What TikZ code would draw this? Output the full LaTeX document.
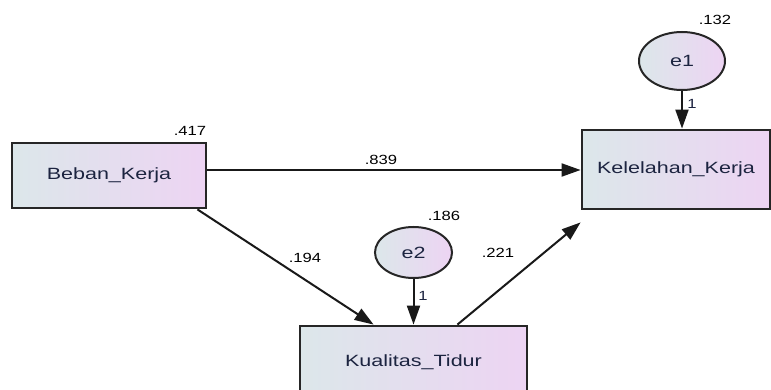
\documentclass[tikz,border=0pt]{standalone}
\usepackage{fontspec}
\newfontfamily\labfont[FakeStretch=1.32]{Liberation Sans}
\newfontfamily\numfont[FakeStretch=1.25]{Liberation Sans}
\usetikzlibrary{arrows.meta,shapes.geometric,calc}
\definecolor{gleft}{HTML}{DCE7EA}
\definecolor{gright}{HTML}{EDD4F3}
\definecolor{txt}{HTML}{1C2440}
\tikzset{
  var/.style={draw=black!85, line width=2.8pt, rectangle, inner sep=0pt,
    left color=gleft, right color=gright,
    font=\labfont\fontsize{16.3}{18}\selectfont, text=txt},
  err/.style={draw=black!85, line width=2pt, ellipse, inner sep=0pt,
    left color=gleft, right color=gright,
    font=\labfont\fontsize{16.3}{18}\selectfont, text=txt},
  num/.style={font=\numfont\fontsize{13.3}{15}\selectfont, text=black, inner sep=0pt},
  one/.style={font=\numfont\fontsize{13.3}{15}\selectfont, text=txt, inner sep=0pt},
  arr/.style={draw=black!90, line width=2pt, -{Triangle[length=19pt,width=13pt]}}
}
\begin{document}
\begin{tikzpicture}[x=1pt,y=-1pt]
\useasboundingbox (0,0) rectangle (771,390);
\fill[white] (0,0) rectangle (771,390);
\node[var, minimum width=194pt, minimum height=65pt] (B) at (109,175.5) {Beban\_Kerja};
\node[var, minimum width=188pt, minimum height=79pt] (KK) at (676,169.5) {Kelelahan\_Kerja};
\node[var, minimum width=227pt, minimum height=72pt] (KT) at (413.5,362) {Kualitas\_Tidur};
\node[err, minimum width=86pt, minimum height=58pt] (e1) at (682,61) {e1};
\node[err, minimum width=77pt, minimum height=51pt] (e2) at (413.5,252.5) {e2};
\draw[arr] (B.east |- 0,170) coordinate (b1) -- (KK.west |- b1);
\draw[arr] ([xshift=-10pt]B.south east) -- ([xshift=75pt]KT.north west);
\draw[arr] ([xshift=-71pt]KT.north east) -- ([yshift=-12pt]KK.south west);
\draw[arr] (e2.south) -- (e2.south |- KT.north);
\draw[arr] (e1.south) -- (e1.south |- KK.north);
\node[num] (n417) at (190,131) {.417};
\node[num] (n132) at (715,20) {.132};
\node[num] (n186) at (444,216) {.186};
\node[num] (n839) at (381,160) {.839};
\node[num] (n194) at (305,258) {.194};
\node[num] (n221) at (498,253) {.221};
\node[one] (o1) at (692,104) {1};
\node[one] (o2) at (423,296) {1};
\end{tikzpicture}
\end{document}
